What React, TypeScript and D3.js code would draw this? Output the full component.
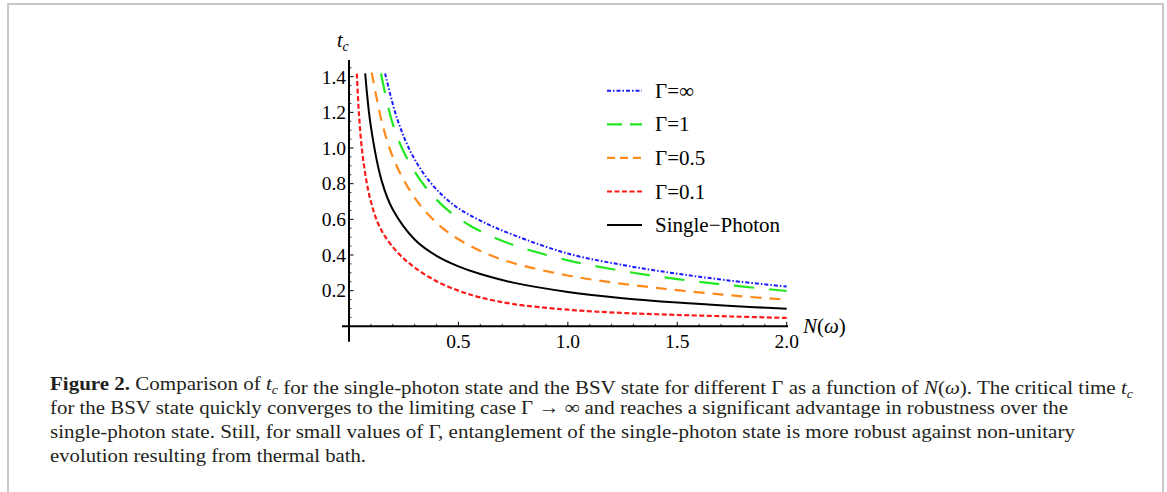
import React from "react";
import * as d3 from "d3";

// ---- data ----
const redN = [0.036, 0.045, 0.06, 0.08, 0.1, 0.13, 0.17, 0.23, 0.3, 0.4, 0.5, 0.6, 0.75, 1.0, 1.25, 1.5, 1.75, 2.0];
const redV = [1.417, 1.2, 0.983, 0.8125, 0.7, 0.585, 0.494, 0.404, 0.33, 0.2525, 0.2, 0.162, 0.125, 0.093, 0.075, 0.064, 0.055, 0.047];

const blackN = [0.074, 0.1, 0.15, 0.2, 0.3, 0.4, 0.5, 0.6, 0.75, 1.0, 1.25, 1.5, 1.75, 2.0];
const blackV = [1.419, 1.12, 0.813, 0.655, 0.487, 0.395, 0.336, 0.293, 0.245, 0.193, 0.158, 0.133, 0.114, 0.0985];

const orangeN = [0.104, 0.15, 0.2, 0.27, 0.35, 0.45, 0.6, 0.75, 1.0, 1.25, 1.5, 1.75, 2.0];
const orangeV = [1.423, 1.147, 0.95, 0.778, 0.643, 0.529, 0.423, 0.355, 0.285, 0.238, 0.203, 0.173, 0.149];

const greenN = [0.146, 0.2, 0.26, 0.35, 0.45, 0.55, 0.65, 0.75, 1.0, 1.25, 1.5, 1.75, 2.0];
const greenV = [1.418, 1.135, 0.954, 0.78, 0.653, 0.567, 0.505, 0.456, 0.37, 0.31, 0.265, 0.229, 0.198];

const blueN = [0.165, 0.22, 0.29, 0.38, 0.48, 0.6, 0.75, 1.0, 1.25, 1.5, 1.75, 2.0];
const blueV = [1.418, 1.164, 0.959, 0.795, 0.679, 0.593, 0.513, 0.408, 0.344, 0.295, 0.255, 0.223];

const xTicks = [0.5, 1.0, 1.5, 2.0];
const yTicks = [0.2, 0.4, 0.6, 0.8, 1.0, 1.2, 1.4];

const legendLabels = ["Γ=∞", "Γ=1", "Γ=0.5", "Γ=0.1", "Single−Photon"];

type Series = { n: number[]; v: number[]; color: string; dash: string; legendDash: string; width: number };

const series: Series[] = [
  { n: blueN, v: blueV, color: "#1a1aff", dash: "4,2,1.5,2", legendDash: "4,2,1.5,2", width: 2 },
  { n: greenN, v: greenV, color: "#22e822", dash: "20,15", legendDash: "15,8", width: 2.2 },
  { n: orangeN, v: orangeV, color: "#ff8a1a", dash: "11,8", legendDash: "8,5", width: 2.2 },
  { n: redN, v: redV, color: "#ff1a1a", dash: "5,2.5", legendDash: "5,2.5", width: 2.2 },
  { n: blackN, v: blackV, color: "#000000", dash: "", legendDash: "", width: 2 },
];

const FONT = "'Liberation Serif', 'Times New Roman', serif";

export default function App() {
  const x = d3.scaleLinear().domain([0, 2]).range([349, 786.7]);
  const y = d3.scaleLinear().domain([0, 1.4]).range([326.3, 76.7]);

  const line = d3
    .line<[number, number]>()
    .x((d) => x(d[0]))
    .y((d) => y(d[1]))
    .curve(d3.curveCatmullRom.alpha(0.5));

  const minorX = d3.range(1, 21).map((i) => i / 10).filter((t) => !xTicks.some((m) => Math.abs(m - t) < 1e-6));
  const minorY = d3.range(1, 30).map((i) => i * 0.05).filter((t) => !yTicks.some((m) => Math.abs(m - t) < 1e-6));

  const legendY0 = 90.7;
  const legendStep = 33.6;

  const sub = (base: string, size = 13) => (
    <>
      <tspan fontStyle="italic">{base}</tspan>
      <tspan fontStyle="italic" fontSize={size} dy="4">c</tspan>
      <tspan dy="-4">{""}</tspan>
    </>
  );

  return (
    <svg
      width={1167}
      height={492}
      style={{ position: "absolute", left: 0, top: 0, background: "#fff" }}
      fontFamily={FONT}
    >
      <rect x={0} y={0} width={1167} height={492} fill="#fff" />
      {/* frame */}
      <path d="M8,500 V4 H1163 V500" fill="none" stroke="#c8c8c8" strokeWidth={2} />

      {/* axes */}
      <line x1={x(0)} x2={x(0)} y1={60} y2={341.7} stroke="#000" strokeWidth={2} />
      <line x1={342} x2={788} y1={y(0)} y2={y(0)} stroke="#000" strokeWidth={2} />

      {/* y ticks */}
      {yTicks.map((t) => (
        <g key={"yt" + t}>
          <line x1={x(0)} x2={x(0) + 4.5} y1={y(t)} y2={y(t)} stroke="#000" strokeWidth={1} />
          <text x={346} y={y(t)} dy="0.35em" textAnchor="end" fontSize={19.5}>
            {t.toFixed(1)}
          </text>
        </g>
      ))}
      {minorY.map((t) => (
        <line key={"ym" + t} x1={x(0)} x2={x(0) + 2.5} y1={y(t)} y2={y(t)} stroke="#000" strokeWidth={0.8} />
      ))}
      {/* x ticks */}
      {xTicks.map((t) => (
        <g key={"xt" + t}>
          <line x1={x(t)} x2={x(t)} y1={y(0)} y2={y(0) - 4.5} stroke="#000" strokeWidth={1} />
          <text x={x(t)} y={348} textAnchor="middle" fontSize={19.5}>
            {t.toFixed(1)}
          </text>
        </g>
      ))}
      {minorX.map((t) => (
        <line key={"xm" + t} x1={x(t)} x2={x(t)} y1={y(0)} y2={y(0) - 2.5} stroke="#000" strokeWidth={0.8} />
      ))}

      {/* axis labels */}
      <text x={337} y={47} fontSize={20}>
        {sub("t", 14)}
      </text>
      <text x={803} y={333} fontSize={21}>
        <tspan fontStyle="italic">N</tspan>(<tspan fontStyle="italic">ω</tspan>)
      </text>

      {/* curves */}
      {series.map((s, i) => (
        <path
          key={"c" + i}
          d={line(s.n.map((n, j) => [n, s.v[j]] as [number, number])) || ""}
          fill="none"
          stroke={s.color}
          strokeWidth={s.width}
          strokeDasharray={s.dash || undefined}
        />
      ))}

      {/* legend */}
      {series.map((s, i) => (
        <g key={"l" + i}>
          <line
            x1={607}
            x2={642}
            y1={legendY0 + i * legendStep}
            y2={legendY0 + i * legendStep}
            stroke={s.color}
            strokeWidth={s.width}
            strokeDasharray={s.legendDash || undefined}
          />
          <text x={655} y={legendY0 + i * legendStep + 7} fontSize={21}>
            {legendLabels[i]}
          </text>
        </g>
      ))}

      {/* caption */}
      <g fontSize={19.5} fill="#231f20">
        <text x={50} y={390} textLength={1083} lengthAdjust="spacingAndGlyphs">
          <tspan fontWeight="bold">Figure 2.</tspan>
          <tspan> Comparison of </tspan>
          {sub("t")}
          <tspan> for the single-photon state and the BSV state for different Γ as a function of </tspan>
          <tspan fontStyle="italic">N</tspan>
          <tspan>(</tspan>
          <tspan fontStyle="italic">ω</tspan>
          <tspan>). The critical time </tspan>
          {sub("t")}
        </text>
        <text x={50} y={414} textLength={1018} lengthAdjust="spacingAndGlyphs">
          for the BSV state quickly converges to the limiting case Γ → ∞ and reaches a significant advantage in robustness over the
        </text>
        <text x={50} y={438} textLength={1025} lengthAdjust="spacingAndGlyphs">
          single-photon state. Still, for small values of Γ, entanglement of the single-photon state is more robust against non-unitary
        </text>
        <text x={50} y={462} textLength={316} lengthAdjust="spacingAndGlyphs">
          evolution resulting from thermal bath.
        </text>
      </g>
    </svg>
  );
}
